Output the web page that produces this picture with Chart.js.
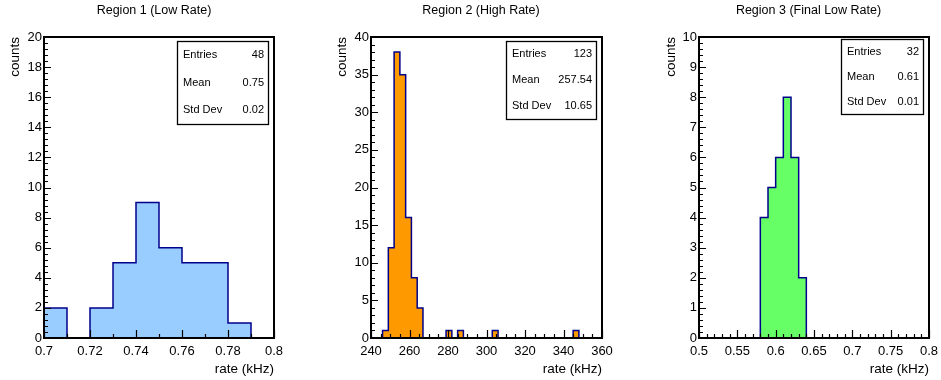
<!DOCTYPE html>
<html><head><meta charset="utf-8">
<script src="https://cdn.jsdelivr.net/npm/chart.js@4.4.1/dist/chart.umd.min.js"></script>
<style>
html,body{margin:0;padding:0;background:#fff;overflow:hidden;}
#wrap{position:relative;width:941px;height:380px;overflow:hidden;background:#fff;}
canvas{position:absolute;top:0;}
</style></head><body>
<div id="wrap">
<canvas id="c1" width="308" height="380" style="left:0px"></canvas>
<canvas id="c2" width="322" height="380" style="left:320px"></canvas>
<canvas id="c3" width="297" height="380" style="left:660px"></canvas>
</div>
<script>
// ---------- data ----------
const titles = ['Region 1 (Low Rate)', 'Region 2 (High Rate)', 'Region 3 (Final Low Rate)'];
const xTitle = 'rate (kHz)';
const yTitle = 'counts';
const statLabels = ['Entries', 'Mean', 'Std Dev'];

// Region 1
const binLow1 = 0.7, binWidth1 = 0.01;
const counts1 = [2, 0, 2, 5, 9, 6, 5, 5, 1, 0];
const xTicks1 = [0.7, 0.72, 0.74, 0.76, 0.78, 0.8];
const yTicks1 = [0, 2, 4, 6, 8, 10, 12, 14, 16, 18, 20];
const stats1 = ['48', '0.75', '0.02'];

// Region 2
const binLow2 = 240, binWidth2 = 3;
const counts2 = [0, 0, 1, 12, 38, 35, 16, 8, 4, 0,
                 0, 0, 0, 1, 0, 1, 0, 0, 0, 0,
                 0, 1, 0, 0, 0, 0, 0, 0, 0, 0,
                 0, 0, 0, 0, 0, 1, 0, 0, 0, 0];
const xTicks2 = [240, 260, 280, 300, 320, 340, 360];
const yTicks2 = [0, 5, 10, 15, 20, 25, 30, 35, 40];
const stats2 = ['123', '257.54', '10.65'];

// Region 3
const binLow3 = 0.5, binWidth3 = 0.01;
const counts3 = [0, 0, 0, 0, 0, 0, 0, 0, 4, 5,
                 6, 8, 6, 2, 0, 0, 0, 0, 0, 0,
                 0, 0, 0, 0, 0, 0, 0, 0, 0, 0];
const xTicks3 = [0.5, 0.55, 0.6, 0.65, 0.7, 0.75, 0.8];
const yTicks3 = [0, 1, 2, 3, 4, 5, 6, 7, 8, 9, 10];
const stats3 = ['32', '0.61', '0.01'];

// ---------- style ----------
Chart.defaults.font.family = '"Liberation Sans", Arial, Helvetica, sans-serif';
Chart.defaults.color = '#000';
const LINE = '#00008b';

function stepPoints(low, width, counts) {
  const pts = [];
  counts.forEach((c, i) => {
    pts.push({x: low + i * width, y: c});
    pts.push({x: low + (i + 1) * width, y: c});
  });
  return pts;
}

const rootFrame = {
  id: 'rootFrame',
  afterDatasetsDraw(chart, args, o) {
    const {ctx, chartArea: a} = chart;
    const x = chart.scales.x, y = chart.scales.y;
    ctx.save();
    ctx.strokeStyle = '#000';
    ctx.lineWidth = 1.2;
    ctx.beginPath();
    const xmin = x.min, xmax = x.max, ymin = y.min, ymax = y.max;
    const nx = Math.round((xmax - xmin) / o.xMinor);
    for (let k = 0; k <= nx; k++) {
      const px = Math.round(x.getPixelForValue(xmin + k * o.xMinor)) + 0.5;
      ctx.moveTo(px, a.bottom); ctx.lineTo(px, a.bottom - 4);
    }
    o.xMajor.forEach(v => {
      const px = Math.round(x.getPixelForValue(v)) + 0.5;
      ctx.moveTo(px, a.bottom); ctx.lineTo(px, a.bottom - 8);
    });
    const ny = Math.round((ymax - ymin) / o.yMinor);
    for (let k = 0; k <= ny; k++) {
      const py = Math.round(y.getPixelForValue(ymin + k * o.yMinor)) + 0.5;
      ctx.moveTo(a.left, py); ctx.lineTo(a.left + 4, py);
    }
    o.yMajor.forEach(v => {
      const py = Math.round(y.getPixelForValue(v)) + 0.5;
      ctx.moveTo(a.left, py); ctx.lineTo(a.left + 7, py);
    });
    ctx.stroke();
    ctx.lineWidth = 2;
    ctx.strokeRect(a.left, a.top, a.right - a.left, a.bottom - a.top);
    // stats box
    const s = o.stats;
    const bx = a.right - s.insetRight - s.w, by = a.top + s.insetTop;
    ctx.fillStyle = '#fff';
    ctx.fillRect(bx, by, s.w, s.h);
    ctx.lineWidth = 1.3;
    ctx.strokeRect(bx + 0.5, by + 0.5, s.w, s.h);
    ctx.fillStyle = '#000';
    ctx.font = '11px "Liberation Sans", Arial, sans-serif';
    ctx.textBaseline = 'middle';
    s.labels.forEach((lab, i) => {
      const ty = by + s.h * (2 * i + 1) / 6;
      ctx.textAlign = 'left';
      ctx.fillText(lab, bx + 6, ty);
      ctx.textAlign = 'right';
      ctx.fillText(s.values[i], bx + s.w - 4, ty);
    });
    ctx.restore();
  }
};

function makeChart(id, cfg) {
  return new Chart(document.getElementById(id), {
    type: 'line',
    data: {
      datasets: [{
        data: stepPoints(cfg.low, cfg.width, cfg.counts),
        borderColor: LINE,
        borderWidth: 1.5,
        backgroundColor: cfg.fill,
        fill: 'origin',
        pointRadius: 0,
        tension: 0,
        yAxisID: 'y'
      }]
    },
    options: {
      responsive: false,
      animation: false,
      devicePixelRatio: 1,
      events: [],
      layout: {padding: 0},
      plugins: {
        legend: {display: false},
        tooltip: {enabled: false},
        title: {
          display: true, text: cfg.title,
          font: {size: 12.5, weight: 'normal'}, color: '#000',
          padding: {top: 3.5, bottom: 18.5}
        },
        rootFrame: {
          xMajor: cfg.xTicks, xMinor: cfg.xMinor,
          yMajor: cfg.yTicks, yMinor: cfg.yMinor,
          stats: cfg.stats
        }
      },
      scales: {
        x: {
          type: 'linear', position: 'bottom',
          min: cfg.xTicks[0], max: cfg.xTicks[cfg.xTicks.length - 1],
          grid: {display: false, drawTicks: false, tickLength: 0},
          border: {display: false},
          afterBuildTicks: s => { s.ticks = cfg.xTicks.map(v => ({value: v})); },
          afterFit: s => { s.height = 42; },
          ticks: {
            autoSkip: false, maxRotation: 0, padding: 6,
            font: {size: 13}, color: '#000',
            callback: v => String(v)
          },
          title: {
            display: true, text: xTitle, align: 'end',
            font: {size: 13.5}, color: '#000',
            padding: {top: 0, bottom: 2.9}
          }
        },
        y: {
          type: 'linear', position: 'left',
          min: cfg.yTicks[0], max: cfg.yTicks[cfg.yTicks.length - 1],
          grid: {display: false, drawTicks: false, tickLength: 0},
          border: {display: false},
          afterBuildTicks: s => { s.ticks = cfg.yTicks.map(v => ({value: v})); },
          afterFit: s => { s.width = cfg.yw; },
          ticks: {
            autoSkip: false, padding: 2,
            font: {size: 13}, color: '#000',
            callback: v => String(v)
          },
          title: {
            display: true, text: yTitle, align: 'end',
            font: {size: 13.5}, color: '#000',
            padding: {top: cfg.ytPad, bottom: 0}
          }
        },
        yR: {
          type: 'linear', position: 'right', min: 0, max: 1,
          grid: {display: false, drawTicks: false, tickLength: 0},
          border: {display: false},
          ticks: {display: false},
          afterFit: s => { s.width = cfg.rw; }
        }
      }
    },
    plugins: [rootFrame]
  });
}

makeChart('c1', {
  title: titles[0], low: binLow1, width: binWidth1, counts: counts1,
  fill: '#99ccff', xTicks: xTicks1, yTicks: yTicks1, xMinor: 0.01, yMinor: 0.4,
  yw: 44, rw: 34, ytPad: 6.9,
  stats: {labels: statLabels, values: stats1, w: 91, h: 83, insetRight: 6, insetTop: 4}
});
makeChart('c2', {
  title: titles[1], low: binLow2, width: binWidth2, counts: counts2,
  fill: '#ff9900', xTicks: xTicks2, yTicks: yTicks2, xMinor: 5, yMinor: 1,
  yw: 51, rw: 40, ytPad: 13.9,
  stats: {labels: statLabels, values: stats2, w: 90, h: 78, insetRight: 6, insetTop: 4}
});
makeChart('c3', {
  title: titles[2], low: binLow3, width: binWidth3, counts: counts3,
  fill: '#66ff66', xTicks: xTicks3, yTicks: yTicks3, xMinor: 0.01, yMinor: 0.2,
  yw: 39, rw: 28, ytPad: 3.6,
  stats: {labels: statLabels, values: stats3, w: 82, h: 75, insetRight: 6, insetTop: 2}
});
</script>
</body></html>
